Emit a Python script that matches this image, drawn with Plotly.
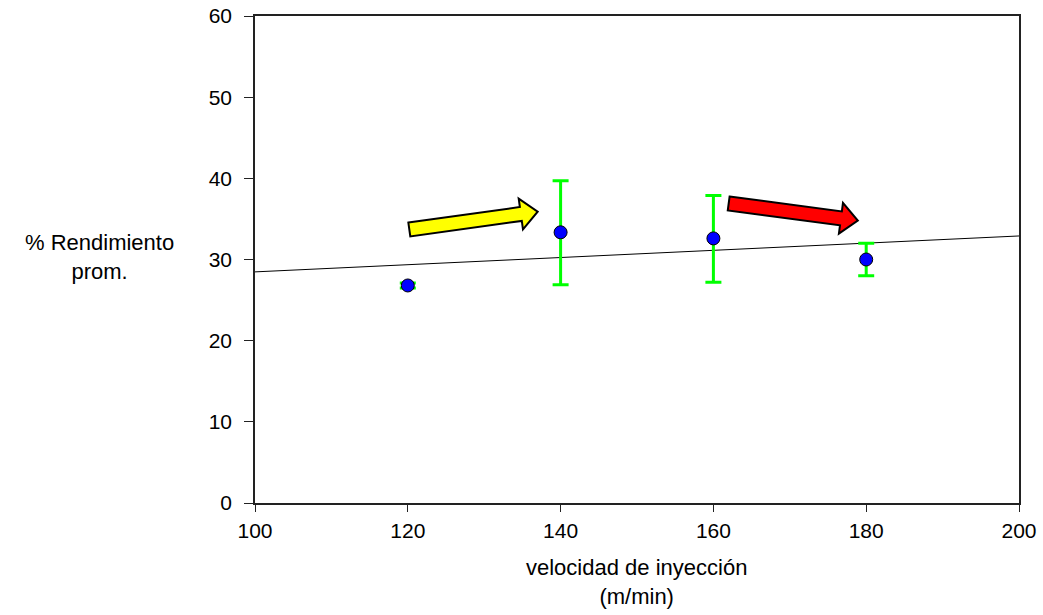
import numpy as np
import plotly.graph_objects as go

# ---- data ----
velocidad = [120, 140, 160, 180]
rendimiento = [26.8, 33.35, 32.6, 30.0]
err_plus = [0.3, 6.35, 5.3, 2.0]
err_minus = [0.3, 6.45, 5.4, 2.0]

x_ticks = [100, 120, 140, 160, 180, 200]
y_ticks = [0, 10, 20, 30, 40, 50, 60]

# decorative block arrows: (tail_x, tail_y) -> (tip_x, tip_y) in data units
arrow_yellow = [(120.2, 33.7), (137.0, 35.9)]
arrow_red = [(162.0, 36.9), (178.9, 34.8)]

# ---- layout geometry ----
W, H = 1043, 615
ML, MR, MT, MB = 255, 24, 16, 112
PW, PH = W - ML - MR, H - MT - MB
XR, YR = [100, 200], [0, 60]
sx = PW / (XR[1] - XR[0])
sy = PH / (YR[1] - YR[0])

# regression trend line
coef = np.polyfit(velocidad, rendimiento, 1)
trend_x = [XR[0], XR[1]]
trend_y = [float(np.polyval(coef, v)) for v in trend_x]


def arrow_path(tail, tip, w=7.0, hw=15.5, hl=17.0):
    # work in pixel space (y up), then convert back to data
    T = np.array([(tail[0] - XR[0]) * sx, tail[1] * sy])
    P = np.array([(tip[0] - XR[0]) * sx, tip[1] * sy])
    d = P - T
    u = d / np.linalg.norm(d)
    n = np.array([-u[1], u[0]])
    B = P - hl * u
    pts = [T + w * n, B + w * n, B + hw * n, P, B - hw * n, B - w * n, T - w * n]
    out = [(XR[0] + p[0] / sx, p[1] / sy) for p in pts]
    return "M " + " L ".join(f"{a:.4f},{b:.4f}" for a, b in out) + " Z"


fig = go.Figure()

fig.add_trace(go.Scatter(
    x=trend_x, y=trend_y, mode="lines",
    line=dict(color="black", width=1), showlegend=False, hoverinfo="skip"))

fig.add_trace(go.Scatter(
    x=velocidad, y=rendimiento, mode="markers",
    marker=dict(symbol="circle", size=13, color="#0000FF",
                line=dict(color="black", width=1)),
    error_y=dict(type="data", symmetric=False, array=err_plus,
                 arrayminus=err_minus, color="#00FF00", thickness=3, width=8),
    showlegend=False))

for (tail, tip), col in [(arrow_yellow, "#FFFF00"), (arrow_red, "#FF0000")]:
    fig.add_shape(type="path", xref="x", yref="y", path=arrow_path(tail, tip),
                  fillcolor=col, line=dict(color="black", width=2), layer="above")

font = "Liberation Sans, Arial, sans-serif"

axis_common = dict(ticks="outside", tickcolor="#222", showgrid=False,
                   zeroline=False, showline=True, linecolor="#222",
                   linewidth=1.5, mirror=True, automargin=False,
                   tickfont=dict(family=font, size=21, color="black"))

fig.update_layout(
    width=W, height=H, autosize=False,
    margin=dict(l=ML, r=MR, t=MT, b=MB, pad=0, autoexpand=False),
    paper_bgcolor="white", plot_bgcolor="white",
    font=dict(family=font, size=21, color="black"),
    xaxis=dict(range=XR, tickvals=x_ticks, ticklen=7, ticklabelstandoff=1,
               **axis_common),
    yaxis=dict(range=YR, tickvals=y_ticks, ticklen=9, ticklabelstandoff=8,
               **axis_common),
)


def px2paper_x(px):
    return (px - ML) / PW


def px2paper_y(py):
    return (H - MB - py) / PH


title_font = dict(family=font, size=22, color="black")
for text, px, py in [("% Rendimiento<br>prom.", 99, 257),
                     ("velocidad de inyección<br>(m/min)", 636, 582)]:
    fig.add_annotation(text=text, xref="paper", yref="paper",
                       x=px2paper_x(px), y=px2paper_y(py),
                       xanchor="center", yanchor="middle", align="center",
                       showarrow=False, font=title_font)

fig.write_html("out.html")
